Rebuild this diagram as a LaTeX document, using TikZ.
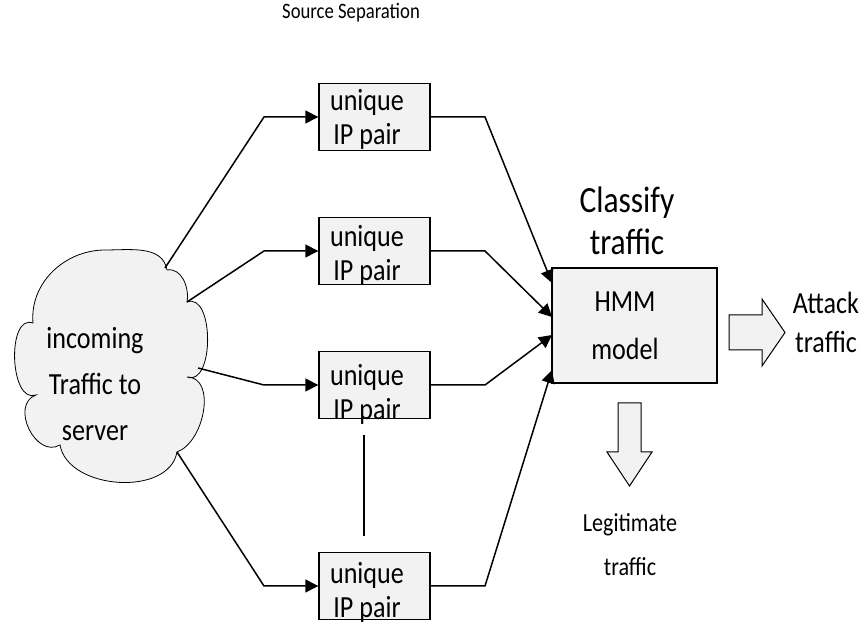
\documentclass[tikz,border=0pt]{standalone}
\usepackage{fontspec}
\setmainfont{Carlito}[FakeStretch=0.85]
\usetikzlibrary{arrows.meta}
\definecolor{shade}{HTML}{F2F2F2}
\tikzset{
  pairbox/.style={draw, line width=1.4pt, fill=shade, minimum width=111pt,
    minimum height=67pt, inner sep=0pt},
  hmmbox/.style={draw, line width=1.4pt, fill=shade, minimum width=165pt,
    minimum height=115pt, inner sep=0pt},
  boxtext/.style={font=\fontsize{30.7}{34}\selectfont, align=center, inner sep=0pt},
  cloudtext/.style={font=\fontsize{30.7}{46}\selectfont, align=center, inner sep=0pt},
  modeltext/.style={font=\fontsize{30.7}{48}\selectfont, align=center, inner sep=0pt},
  sidetext/.style={font=\fontsize{30.7}{39}\selectfont, align=center, inner sep=0pt},
  legittext/.style={font=\fontsize{26}{44}\selectfont, align=center, inner sep=0pt},
  titletext/.style={font=\fontsize{37}{42}\selectfont, align=center, inner sep=0pt},
  captext/.style={font=\fontsize{22}{24}\selectfont, inner sep=0pt},
  flow/.style={line width=1.5pt, -{Triangle[length=13pt,width=13pt]}},
  blockarrow/.style={draw, line width=1pt, fill=shade, line join=miter},
}
\begin{document}
\begin{tikzpicture}[x=1pt, y=1pt]
\useasboundingbox (0,0) rectangle (867,626);

% incoming traffic cloud
\coordinate (k1) at (33,303);
\coordinate (k2) at (105,376);
\coordinate (k3) at (167,356);
\coordinate (k4) at (187,324);
\coordinate (k5) at (187,249);
\coordinate (k6) at (177,174);
\coordinate (k7) at (60,181);
\coordinate (k8) at (36,231);
\draw[fill=shade, line width=0.8pt]
  (k1) to[out=95, in=180] (k2)
       to[out=0, in=100] (k3)
       to[out=10, in=80] (k4)
       to[out=20, in=-20] (k5)
       to[out=0, in=20] (k6)
       to[out=-100, in=-80] (k7)
       to[out=210, in=200, looseness=1.3] (k8)
       to[out=200, in=160] (k1) -- cycle;
\node[cloudtext] (cloud) at (95,242) {incoming\\Traffic to\\server};
\coordinate (c1) at (165,358);
\coordinate (c2) at (187,324);
\coordinate (c3) at (198,258);
\coordinate (c4) at (177,174);

% source separation boxes
\node[captext] (src) at (351,613) {Source Separation};
\node[pairbox] (b1) at (374.5,509) {};
\node[pairbox] (b2) at (374.5,375) {};
\node[pairbox] (b3) at (374.5,241) {};
\node[pairbox] (b4) at (374.5,40) {};
\node[boxtext] (t1) at (367,507) {unique\\IP pair};
\node[boxtext] (t2) at (367,371) {unique\\IP pair};
\node[boxtext] (t3) at (367,232) {unique\\IP pair};
\node[boxtext] (t4) at (367,34) {unique\\IP pair};
\coordinate (gapTop) at (364,191);
\coordinate (gapBot) at (364,90);
\draw[line width=1.2pt] (gapTop) -- (gapBot);

% classifier
\node[titletext] (cls) at (627,405) {Classify\\traffic};
\node[hmmbox] (hmm) at (634.5,300.5) {};
\node[modeltext] (hmmtext) at (625,300) {HMM\\model};
\coordinate (h1) at (552,343);
\coordinate (h2) at (552,309);
\coordinate (h3) at (552,291);
\coordinate (h4) at (552,256);

% connectors from the cloud to the boxes
\draw[flow] (c1) -- (264,509) -- (b1.west);
\draw[flow] (c2) -- (264,375) -- (b2.west);
\draw[flow] (c3) -- (264,241) -- (b3.west);
\draw[flow] (c4) -- (264,40) -- (b4.west);

% connectors from the boxes to the classifier
\draw[flow] (b1.east) -- (485,509) -- (h1);
\draw[flow] (b2.east) -- (485,375) -- (h2);
\draw[flow] (b3.east) -- (485,241) -- (h3);
\draw[flow] (b4.east) -- (485,40) -- (h4);

% outputs
\path[blockarrow] (729,276) -- (762,276) -- (762,260) -- (785,293.5)
  -- (762,327) -- (762,311) -- (729,311) -- cycle;
\node[sidetext] (attack) at (826,304) {Attack\\traffic};
\path[blockarrow] (618,223) -- (641,223) -- (641,174) -- (652,174)
  -- (629.5,140) -- (607,174) -- (618,174) -- cycle;
\node[legittext] (legit) at (630,81) {Legitimate\\traffic};
\end{tikzpicture}
\end{document}
